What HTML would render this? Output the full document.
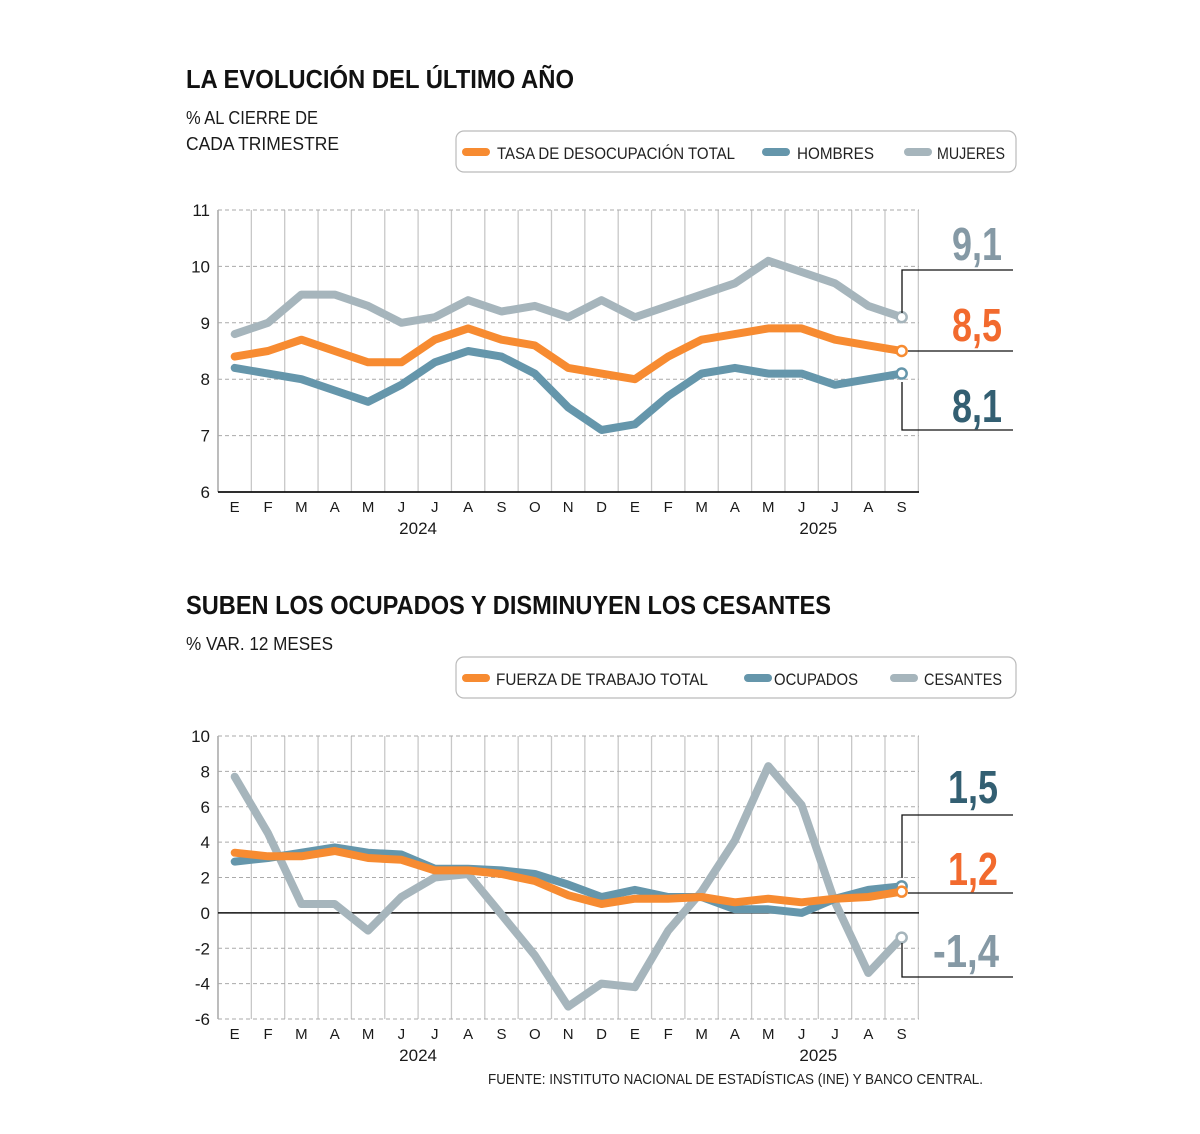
<!DOCTYPE html>
<html><head><meta charset="utf-8">
<style>
html,body{margin:0;padding:0;background:#fff;}
svg{display:block;font-family:"Liberation Sans",sans-serif;}
</style></head>
<body>
<svg id="s" width="1200" height="1134" viewBox="0 0 1200 1134" xmlns="http://www.w3.org/2000/svg"></svg>
<script>
const S=document.getElementById('s');
let h='';
const X0=218, W=33.35;
const xc=i=>X0+W*(i+0.5);
const months=['E','F','M','A','M','J','J','A','S','O','N','D','E','F','M','A','M','J','J','A','S'];
const OR='#f78b31', HB='#6596ab', MJ='#a6b5bc';
function txt(x,y,s,size,opt){opt=opt||{};
 h+=`<text x="${x}" y="${y}" font-size="${size}" fill="${opt.fill||'#1a1a1a'}" ${opt.anchor?`text-anchor="${opt.anchor}"`:''} ${opt.w?`font-weight="${opt.w}"`:''} ${opt.len?`textLength="${opt.len}" lengthAdjust="spacingAndGlyphs"`:''}>${s}</text>`;}
function chart(top,bot,vmin,vmax,step,series,dashBottom,zeroLine){
 const yv=v=>bot-(v-vmin)*(bot-top)/(vmax-vmin);
 for(let k=0;k<=21;k++){const x=X0+W*k;h+=`<line x1="${x}" y1="${top}" x2="${x}" y2="${bot}" stroke="${k==0?'#999':'#c8c8c8'}" stroke-width="1.3"/>`;}
 for(let v=vmin;v<=vmax;v+=step){const y=yv(v);
  if(v==vmin&&!dashBottom){h+=`<line x1="${X0}" y1="${y}" x2="919" y2="${y}" stroke="#111" stroke-width="1.8"/>`;}
  else h+=`<line x1="${X0}" y1="${y}" x2="919" y2="${y}" stroke="#aaa" stroke-width="1" stroke-dasharray="4,3"/>`;
  txt(210,y+6,v,17,{anchor:'end'});}
 if(zeroLine){const y=yv(0);h+=`<line x1="${X0}" y1="${y}" x2="919" y2="${y}" stroke="#111" stroke-width="1.5"/>`;}
 series.forEach(s=>{const pts=s.d.map((v,i)=>`${xc(i).toFixed(1)},${yv(v).toFixed(1)}`).join(' ');
  h+=`<polyline points="${pts}" fill="none" stroke="${s.c}" stroke-width="8" stroke-linejoin="round" stroke-linecap="round"/>`;});
 series.forEach(s=>{const v=s.d[20];h+=`<circle cx="${xc(20)}" cy="${yv(v)}" r="5" fill="#fff" stroke="${s.c}" stroke-width="2.5"/>`;});
 months.forEach((m,i)=>txt(xc(i),bot+20,m,15,{anchor:'middle'}));
 txt(xc(5.5),bot+42,'2024',17,{anchor:'middle'});
 txt(xc(17.5),bot+42,'2025',17,{anchor:'middle'});
}
function legend(y,items){
 h+=`<rect x="456" y="${y}" width="560" height="41" rx="8" fill="#fff" stroke="#bbb" stroke-width="1.2"/>`;
 items.forEach(it=>{h+=`<line x1="${it.x}" y1="${y+21}" x2="${it.x+20}" y2="${y+21}" stroke="${it.c}" stroke-width="8" stroke-linecap="round"/>`;
  txt(it.tx,y+28,it.t,16.5,{len:it.len,fill:'#222'});});
}
// Chart 1
txt(186,88,'LA EVOLUCIÓN DEL ÚLTIMO AÑO',26,{w:'bold',len:388,fill:'#111'});
txt(186,124,'% AL CIERRE DE',18,{len:132});
txt(186,150,'CADA TRIMESTRE',18,{len:153});
legend(131,[{x:466,c:OR,tx:497,t:'TASA DE DESOCUPACIÓN TOTAL',len:238},{x:766,c:HB,tx:797,t:'HOMBRES',len:77},{x:908,c:MJ,tx:937,t:'MUJERES',len:68}]);
chart(210,492,6,11,1,[
 {c:MJ,d:[8.8,9.0,9.5,9.5,9.3,9.0,9.1,9.4,9.2,9.3,9.1,9.4,9.1,9.3,9.5,9.7,10.1,9.9,9.7,9.3,9.1]},
 {c:HB,d:[8.2,8.1,8.0,7.8,7.6,7.9,8.3,8.5,8.4,8.1,7.5,7.1,7.2,7.7,8.1,8.2,8.1,8.1,7.9,8.0,8.1]},
 {c:OR,d:[8.4,8.5,8.7,8.5,8.3,8.3,8.7,8.9,8.7,8.6,8.2,8.1,8.0,8.4,8.7,8.8,8.9,8.9,8.7,8.6,8.5]}
],false,false);
h+=`<polyline points="1013,270 902,270 902,313" fill="none" stroke="#111" stroke-width="1.3"/>`;
h+=`<line x1="908" y1="351" x2="1013" y2="351" stroke="#111" stroke-width="1.3"/>`;
h+=`<polyline points="902,382 902,430 1013,430" fill="none" stroke="#111" stroke-width="1.3"/>`;
txt(977,260,'9,1',46,{w:'bold',anchor:'middle',fill:'#8599a5',len:50});
txt(977,341,'8,5',46,{w:'bold',anchor:'middle',fill:'#f26a2e',len:50});
txt(977,422,'8,1',46,{w:'bold',anchor:'middle',fill:'#335f72',len:50});
// Chart 2
txt(186,614,'SUBEN LOS OCUPADOS Y DISMINUYEN LOS CESANTES',26,{w:'bold',len:645,fill:'#111'});
txt(186,650,'% VAR. 12 MESES',18,{len:147});
legend(657,[{x:466,c:OR,tx:496,t:'FUERZA DE TRABAJO  TOTAL',len:212},{x:748,c:HB,tx:774,t:'OCUPADOS',len:84},{x:894,c:MJ,tx:924,t:'CESANTES',len:78}]);
chart(736,1019,-6,10,2,[
 {c:MJ,d:[7.7,4.5,0.5,0.5,-1.0,0.9,2.0,2.2,-0.1,-2.4,-5.3,-4.0,-4.2,-1.0,1.2,4.1,8.3,6.1,0.6,-3.4,-1.4]},
 {c:HB,d:[2.9,3.1,3.4,3.7,3.4,3.3,2.5,2.5,2.4,2.2,1.6,0.9,1.3,0.9,0.9,0.2,0.2,0.0,0.8,1.3,1.5]},
 {c:OR,d:[3.4,3.2,3.2,3.5,3.1,3.0,2.4,2.4,2.2,1.8,1.0,0.5,0.8,0.8,0.9,0.6,0.8,0.6,0.8,0.9,1.2]}
],true,true);
h+=`<polyline points="1013,815 902,815 902,878" fill="none" stroke="#111" stroke-width="1.3"/>`;
h+=`<line x1="908" y1="893" x2="1013" y2="893" stroke="#111" stroke-width="1.3"/>`;
h+=`<polyline points="902,943 902,977 1013,977" fill="none" stroke="#111" stroke-width="1.3"/>`;
txt(973,803,'1,5',46,{w:'bold',anchor:'middle',fill:'#335f72',len:50});
txt(973,885,'1,2',46,{w:'bold',anchor:'middle',fill:'#f26a2e',len:50});
txt(966,967,'-1,4',46,{w:'bold',anchor:'middle',fill:'#8599a5',len:66});
txt(488,1084,'FUENTE: INSTITUTO NACIONAL DE ESTADÍSTICAS (INE) Y BANCO CENTRAL.',14.5,{len:495,fill:'#222'});
S.innerHTML=h;
</script>
</body></html>
